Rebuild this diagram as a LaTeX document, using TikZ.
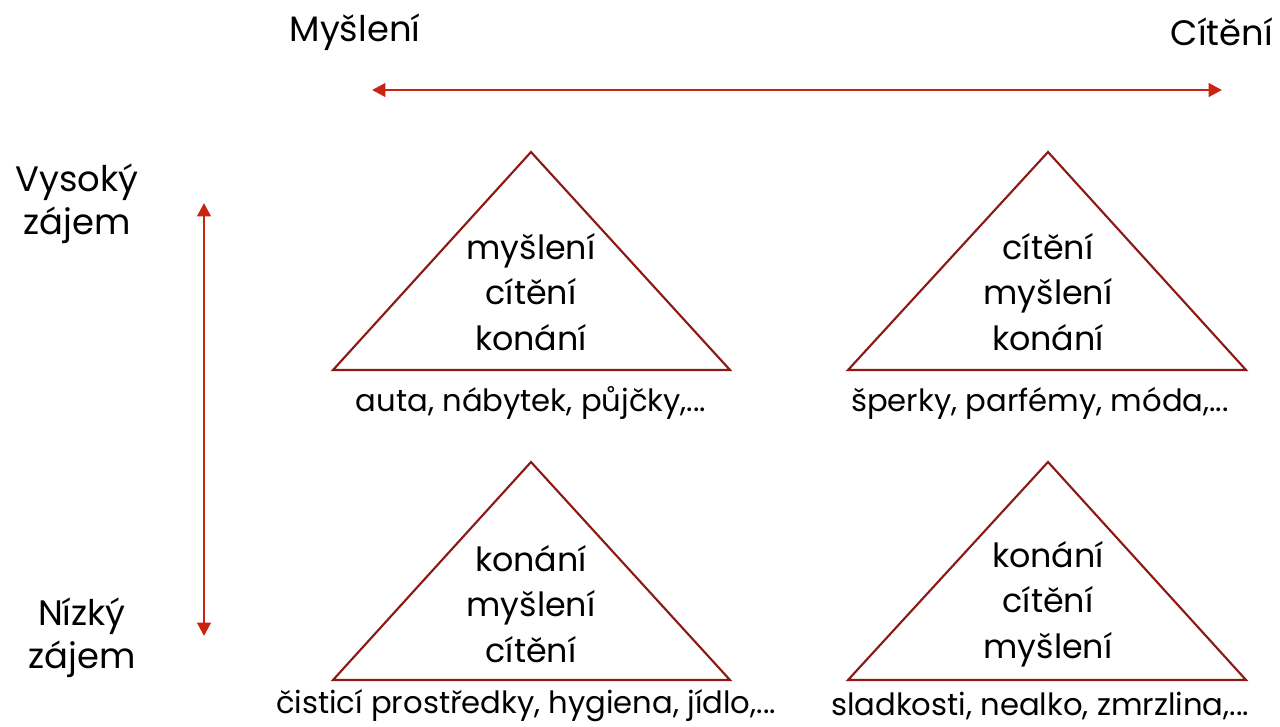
\documentclass[tikz,border=0pt]{standalone}
\usepackage{fontspec}
\setmainfont{Poppins}
\usetikzlibrary{arrows.meta}
\definecolor{tri}{HTML}{8B1A14}
\definecolor{axis}{HTML}{C8240F}
\begin{document}
\begin{tikzpicture}[x=0.75pt,y=-0.75pt,
  tribox/.style={draw=tri,line width=1.6pt,line join=miter},
  axisline/.style={draw=axis,line width=2.2pt,{Triangle[length=10pt,width=10pt]}-{Triangle[length=10pt,width=10pt]}},
  inner/.style={align=center,font=\fontsize{25}{34}\selectfont,inner sep=0pt},
  sub/.style={font=\fontsize{23}{28}\selectfont,inner sep=0pt},
  head/.style={align=center,font=\fontsize{26.5}{32}\selectfont,inner sep=0pt}]
\useasboundingbox (0,0) rectangle (1280,726);

% axes
\coordinate (hl) at (372,90);
\coordinate (hr) at (1222,90);
\coordinate (vt) at (204,203);
\coordinate (vb) at (204,636);
\draw[axisline] (hl) -- (hr);
\draw[axisline] (vt) -- (vb);

% axis labels
\node[head] (think) at (355,32) {Myšlení};
\node[head] (feel) at (1222,32) {Cítění};
\node[head] (high) at (77,204) {Vysoký\\zájem};
\node[head] (low) at (82,638) {Nízký\\zájem};

% triangles
\draw[tribox] (531,152) -- (730,370) -- (333,370) -- cycle;
\draw[tribox] (1048,152) -- (1246,370) -- (848,370) -- cycle;
\draw[tribox] (531,462) -- (730,680) -- (333,680) -- cycle;
\draw[tribox] (1048,462) -- (1246,680) -- (848,680) -- cycle;

% triangle contents
\node[inner] (t1) at (531,292) {myšlení\\cítění\\konání};
\node[inner] (t2) at (1048,292) {cítění\\myšlení\\konání};
\node[inner] (t3) at (531,604) {konání\\myšlení\\cítění};
\node[inner] (t4) at (1048,604) {konání\\cítění\\myšlení};

% examples
\node[sub] (e1) at (531,403) {auta, nábytek, půjčky,...};
\node[sub] (e2) at (1040,403) {šperky, parfémy, móda,...};
\node[sub] (e3) at (526,706) {čisticí prostředky, hygiena, jídlo,...};
\node[sub] (e4) at (1040,706) {sladkosti, nealko, zmrzlina,...};
\end{tikzpicture}
\end{document}
